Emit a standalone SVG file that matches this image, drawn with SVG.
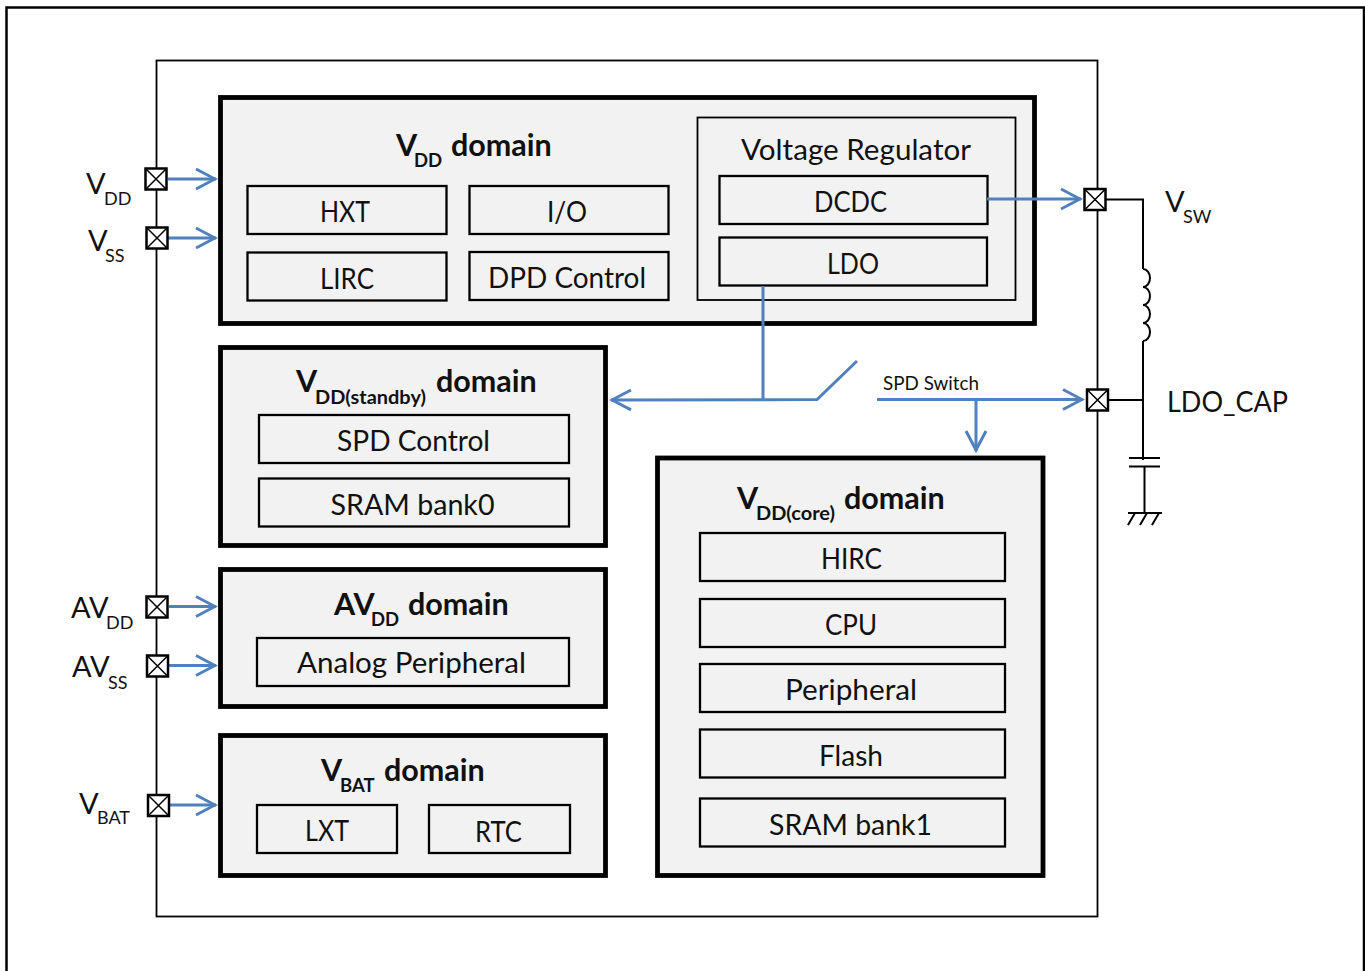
<svg xmlns="http://www.w3.org/2000/svg" width="1365" height="971" viewBox="0 0 1365 971">
<style>
text{font-family:Lato,"Liberation Sans",sans-serif;fill:#111}
.l{font-size:29px;text-anchor:middle}
.t{font-size:30.500px;font-weight:700}
.p{font-size:29px}
.sub{font-size:18px}
.sb{font-size:18.500px;font-weight:700}
.dom{fill:#f2f2f2;stroke:#000;stroke-width:4.800}
.box{fill:#f2f2f2;stroke:#000;stroke-width:2.300}
.wire{fill:none;stroke:#000;stroke-width:2}
.blue{fill:none;stroke:#4f81bd;stroke-width:3}
.pin{fill:#fff;stroke:#000;stroke-width:2.500}
.x{stroke:#000;stroke-width:1.500}
</style>
<defs>
<marker id="a" viewBox="0 0 24 24" refX="22" refY="12" markerWidth="24" markerHeight="24" markerUnits="userSpaceOnUse" orient="auto"><path d="M2 2L21 12L2 22" fill="none" stroke="#4f81bd" stroke-width="3"/></marker>
<g id="pinp"><rect class="pin" x="-10.500" y="-10.500" width="21" height="21"/><path class="x" d="M-10-10L10 10M10-10L-10 10"/></g>
</defs>
<g id="frame"><path d="M6.500 971V7.500H1364V971" fill="none" stroke="#000" stroke-width="2.500"/></g>
<g id="chip"><rect x="156.500" y="60.500" width="941" height="856" fill="#fff" stroke="#000" stroke-width="1.800"/></g>

<g id="vdd-domain"><rect class="dom" x="220.500" y="97.500" width="814" height="226"/>
<text x="396" y="156" class="t">V</text><text x="414" y="167" class="sb">DD</text><text x="451" y="156" class="t">domain</text>
<g id="vreg"><rect x="697.500" y="117.500" width="318" height="182.500" fill="#f2f2f2" stroke="#000" stroke-width="1.800"/><text x="856" y="160" class="l" textLength="230" lengthAdjust="spacingAndGlyphs">Voltage Regulator</text></g>
<g id="hxt"><rect class="box" x="247.500" y="186" width="199" height="48"/><text x="345" y="222" class="l" textLength="50" lengthAdjust="spacingAndGlyphs">HXT</text></g>
<g id="io"><rect class="box" x="469.500" y="186" width="199" height="48"/><text x="567" y="222" class="l" textLength="40" lengthAdjust="spacingAndGlyphs">I/O</text></g>
<g id="lirc"><rect class="box" x="247.500" y="252.500" width="199" height="48"/><text x="347" y="289" class="l" textLength="54" lengthAdjust="spacingAndGlyphs">LIRC</text></g>
<g id="dpd"><rect class="box" x="469.500" y="252" width="199" height="48"/><text x="567" y="288" class="l" textLength="158" lengthAdjust="spacingAndGlyphs">DPD Control</text></g>
<g id="dcdc"><rect class="box" x="719.500" y="176" width="268" height="48"/><text x="850.500" y="212" class="l" textLength="73" lengthAdjust="spacingAndGlyphs">DCDC</text></g>
<g id="ldo"><rect class="box" x="719.500" y="237.500" width="267.500" height="48"/><text x="853" y="274" class="l" textLength="52" lengthAdjust="spacingAndGlyphs">LDO</text></g>
</g>

<g id="standby-domain"><rect class="dom" x="220.500" y="347.500" width="385" height="198"/>
<text x="296" y="392" class="t">V</text><text x="315" y="404" class="sb" textLength="111" lengthAdjust="spacingAndGlyphs">DD(standby)</text><text x="436" y="392" class="t">domain</text>
<g id="spd"><rect class="box" x="259" y="415" width="310" height="48"/><text x="413.500" y="451" class="l" textLength="153" lengthAdjust="spacingAndGlyphs">SPD Control</text></g>
<g id="sram0"><rect class="box" x="259" y="478.500" width="310" height="48"/><text x="412.500" y="515" class="l" textLength="164" lengthAdjust="spacingAndGlyphs">SRAM bank0</text></g>
</g>

<g id="avdd-domain"><rect class="dom" x="220.500" y="569.500" width="385" height="137"/>
<text x="334" y="615" class="t">AV</text><text x="371" y="626" class="sb">DD</text><text x="408" y="615" class="t">domain</text>
<g id="analog"><rect class="box" x="257" y="638" width="312" height="48"/><text x="411.500" y="673" class="l" textLength="229" lengthAdjust="spacingAndGlyphs">Analog Peripheral</text></g>
</g>

<g id="vbat-domain"><rect class="dom" x="220.500" y="735.500" width="385" height="140"/>
<text x="321" y="781" class="t">V</text><text x="340" y="792" class="sb">BAT</text><text x="384" y="781" class="t">domain</text>
<g id="lxt"><rect class="box" x="257" y="805" width="140" height="48"/><text x="327" y="841" class="l" textLength="44" lengthAdjust="spacingAndGlyphs">LXT</text></g>
<g id="rtc"><rect class="box" x="429" y="805" width="141" height="48"/><text x="498.500" y="842" class="l" textLength="47" lengthAdjust="spacingAndGlyphs">RTC</text></g>
</g>

<g id="core-domain"><rect class="dom" x="657.500" y="458" width="385.500" height="417.500"/>
<text x="737" y="509" class="t">V</text><text x="756" y="520" class="sb" textLength="79" lengthAdjust="spacingAndGlyphs">DD(core)</text><text x="844" y="509" class="t">domain</text>
<g id="hirc"><rect class="box" x="700" y="533" width="305" height="48"/><text x="851.500" y="569" class="l" textLength="61" lengthAdjust="spacingAndGlyphs">HIRC</text></g>
<g id="cpu"><rect class="box" x="700" y="599" width="305" height="48"/><text x="851" y="635" class="l" textLength="52" lengthAdjust="spacingAndGlyphs">CPU</text></g>
<g id="peripheral"><rect class="box" x="700" y="664" width="305" height="48"/><text x="851" y="700" class="l" textLength="132" lengthAdjust="spacingAndGlyphs">Peripheral</text></g>
<g id="flash"><rect class="box" x="700" y="729.500" width="305" height="48"/><text x="851" y="766" class="l" textLength="64" lengthAdjust="spacingAndGlyphs">Flash</text></g>
<g id="sram1"><rect class="box" x="700" y="798.500" width="305" height="48"/><text x="850.500" y="835" class="l" textLength="163" lengthAdjust="spacingAndGlyphs">SRAM bank1</text></g>
</g>

<g id="connectors">
<path class="blue" marker-end="url(#a)" d="M168 179H216"/>
<path class="blue" marker-end="url(#a)" d="M168 238H216"/>
<path class="blue" marker-end="url(#a)" d="M169 606.500H216"/>
<path class="blue" marker-end="url(#a)" d="M169 665.500H216"/>
<path class="blue" marker-end="url(#a)" d="M170 805H216"/>
<path class="blue" marker-end="url(#a)" d="M987 199H1081"/>
<path class="blue" marker-end="url(#a)" d="M857 361L817 399.500L611 400"/>
<path class="blue" d="M763 286V399"/>
<path class="blue" marker-end="url(#a)" d="M877 399.500H1083"/>
<path class="blue" marker-end="url(#a)" d="M976 400V451"/>
<path class="wire" d="M1106 199.500H1143V269M1143 341V460M1108 400H1143"/>
<path class="wire" d="M1143 269a7 9 0 0 1 0 18a7 9 0 0 1 0 18a7 9 0 0 1 0 18a7 9 0 0 1 0 18"/>
<path class="wire" d="M1129 458H1160M1129 466.500H1160M1144.500 466.500V513"/>
<path class="wire" d="M1128 513H1162M1135 513L1128 525M1147 513L1140 525M1159 513L1152 525"/>
</g>

<g id="pins">
<use href="#pinp" x="156" y="179"/><use href="#pinp" x="157" y="238"/>
<use href="#pinp" x="157" y="607"/><use href="#pinp" x="157.500" y="666"/>
<use href="#pinp" x="158.500" y="805.500"/>
<use href="#pinp" x="1095" y="199.500"/><use href="#pinp" x="1097.500" y="400"/>
</g>

<g id="labels">
<text class="p" x="86" y="194">V</text><text class="sub" x="104" y="205">DD</text>
<text class="p" x="88" y="251">V</text><text class="sub" x="105" y="262">SS</text>
<text class="p" x="71" y="618">AV</text><text class="sub" x="106" y="629">DD</text>
<text class="p" x="72" y="677">AV</text><text class="sub" x="108" y="689">SS</text>
<text class="p" x="79" y="814">V</text><text class="sub" x="97" y="824">BAT</text>
<text class="p" x="1165" y="212">V</text><text class="sub" x="1183" y="223">SW</text>
<text class="p" x="1167" y="412" textLength="121" lengthAdjust="spacingAndGlyphs">LDO_CAP</text>
<text x="883" y="390" style="font-size:19px" textLength="96" lengthAdjust="spacingAndGlyphs">SPD Switch</text>
</g>
</svg>
